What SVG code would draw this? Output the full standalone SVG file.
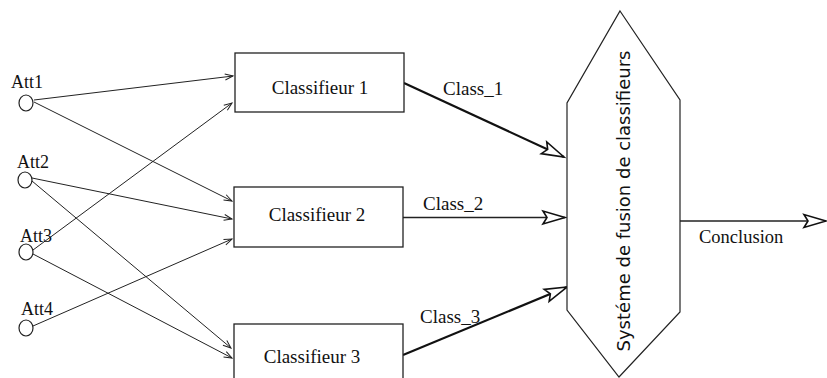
<svg xmlns="http://www.w3.org/2000/svg" width="827" height="378" viewBox="0 0 827 378">
<style>
.serif{font-family:"Liberation Serif","Times New Roman",serif;fill:#111}
.box{fill:#fff;stroke:#222;stroke-width:1.3}
.att{fill:#fff;stroke:#222;stroke-width:1.2}
.thin{stroke:#222;stroke-width:1;fill:none}
.thick{stroke:#111;stroke-width:2.2;fill:none}
</style>
<defs>
<marker id="vee" markerUnits="userSpaceOnUse" markerWidth="12" markerHeight="10" viewBox="-10 -5 12 10" refX="0" refY="0" orient="auto">
<path d="M-8,-3 L0,0 L-8,3" fill="none" stroke="#222" stroke-width="1"/>
</marker>
<marker id="tri" markerUnits="userSpaceOnUse" markerWidth="28" markerHeight="18" viewBox="-25 -9 28 18" refX="0" refY="0" orient="auto">
<path d="M0,0 L-22,-6.5 L-18,0 L-22,6.5 Z" fill="#fff" stroke="#111" stroke-width="1.6" stroke-linejoin="miter"/>
</marker>
</defs>

<g id="connectors">
<line class="thin" x1="34" y1="100" x2="233" y2="76" marker-end="url(#vee)"/>
<line class="thin" x1="34" y1="102" x2="232" y2="201" marker-end="url(#vee)"/>
<line class="thin" x1="32" y1="178" x2="232" y2="219" marker-end="url(#vee)"/>
<line class="thin" x1="32" y1="181" x2="231" y2="348" marker-end="url(#vee)"/>
<line class="thin" x1="33" y1="250" x2="232" y2="103" marker-end="url(#vee)"/>
<line class="thin" x1="33" y1="254" x2="232" y2="358" marker-end="url(#vee)"/>
<line class="thin" x1="33" y1="326" x2="232" y2="239" marker-end="url(#vee)"/>
<line class="thick" x1="404" y1="83" x2="564" y2="157" marker-end="url(#tri)"/>
<line class="thin" style="stroke-width:1.4" x1="403" y1="217.5" x2="565" y2="217.5" marker-end="url(#tri)"/>
<line class="thick" x1="403" y1="355" x2="567" y2="287" marker-end="url(#tri)"/>
<line class="thin" style="stroke-width:1.3" x1="680" y1="221" x2="826" y2="221" marker-end="url(#tri)"/>
<text class="serif" x="443" y="95" font-size="19">Class_1</text>
<text class="serif" x="423" y="210" font-size="19">Class_2</text>
<text class="serif" x="420" y="323" font-size="19">Class_3</text>
<text class="serif" x="699" y="243" font-size="18.5">Conclusion</text>
</g>

<g id="att1">
<ellipse class="att" cx="26" cy="103" rx="7" ry="8"/>
<text class="serif" x="11" y="88" font-size="18">Att1</text>
</g>
<g id="att2">
<ellipse class="att" cx="25" cy="180" rx="7" ry="8"/>
<text class="serif" x="17" y="168" font-size="18">Att2</text>
</g>
<g id="att3">
<ellipse class="att" cx="26" cy="252" rx="7" ry="8"/>
<text class="serif" x="20" y="242" font-size="18">Att3</text>
</g>
<g id="att4">
<ellipse class="att" cx="26" cy="328" rx="7" ry="8"/>
<text class="serif" x="21" y="315" font-size="18">Att4</text>
</g>

<g id="classifieur1">
<rect class="box" x="235" y="53" width="169" height="59"/>
<text class="serif" x="320" y="94" font-size="19" text-anchor="middle">Classifieur 1</text>
</g>
<g id="classifieur2">
<rect class="box" x="234" y="187" width="169" height="60"/>
<text class="serif" x="317" y="221" font-size="19" text-anchor="middle">Classifieur 2</text>
</g>
<g id="classifieur3">
<rect class="box" x="234" y="324" width="169" height="60"/>
<text class="serif" x="312" y="363" font-size="19" text-anchor="middle">Classifieur 3</text>
</g>

<g id="fusion">
<polygon points="620,11 680,100 680,312 619,377 567,310 567,103" fill="#fff" stroke="#222" stroke-width="1.2"/>
<text transform="translate(630,201) rotate(-90)" x="0" y="0" font-family="DejaVu Sans, sans-serif" font-size="18" text-anchor="middle" fill="#111">Systéme de fusion de classifieurs</text>
</g>
</svg>
